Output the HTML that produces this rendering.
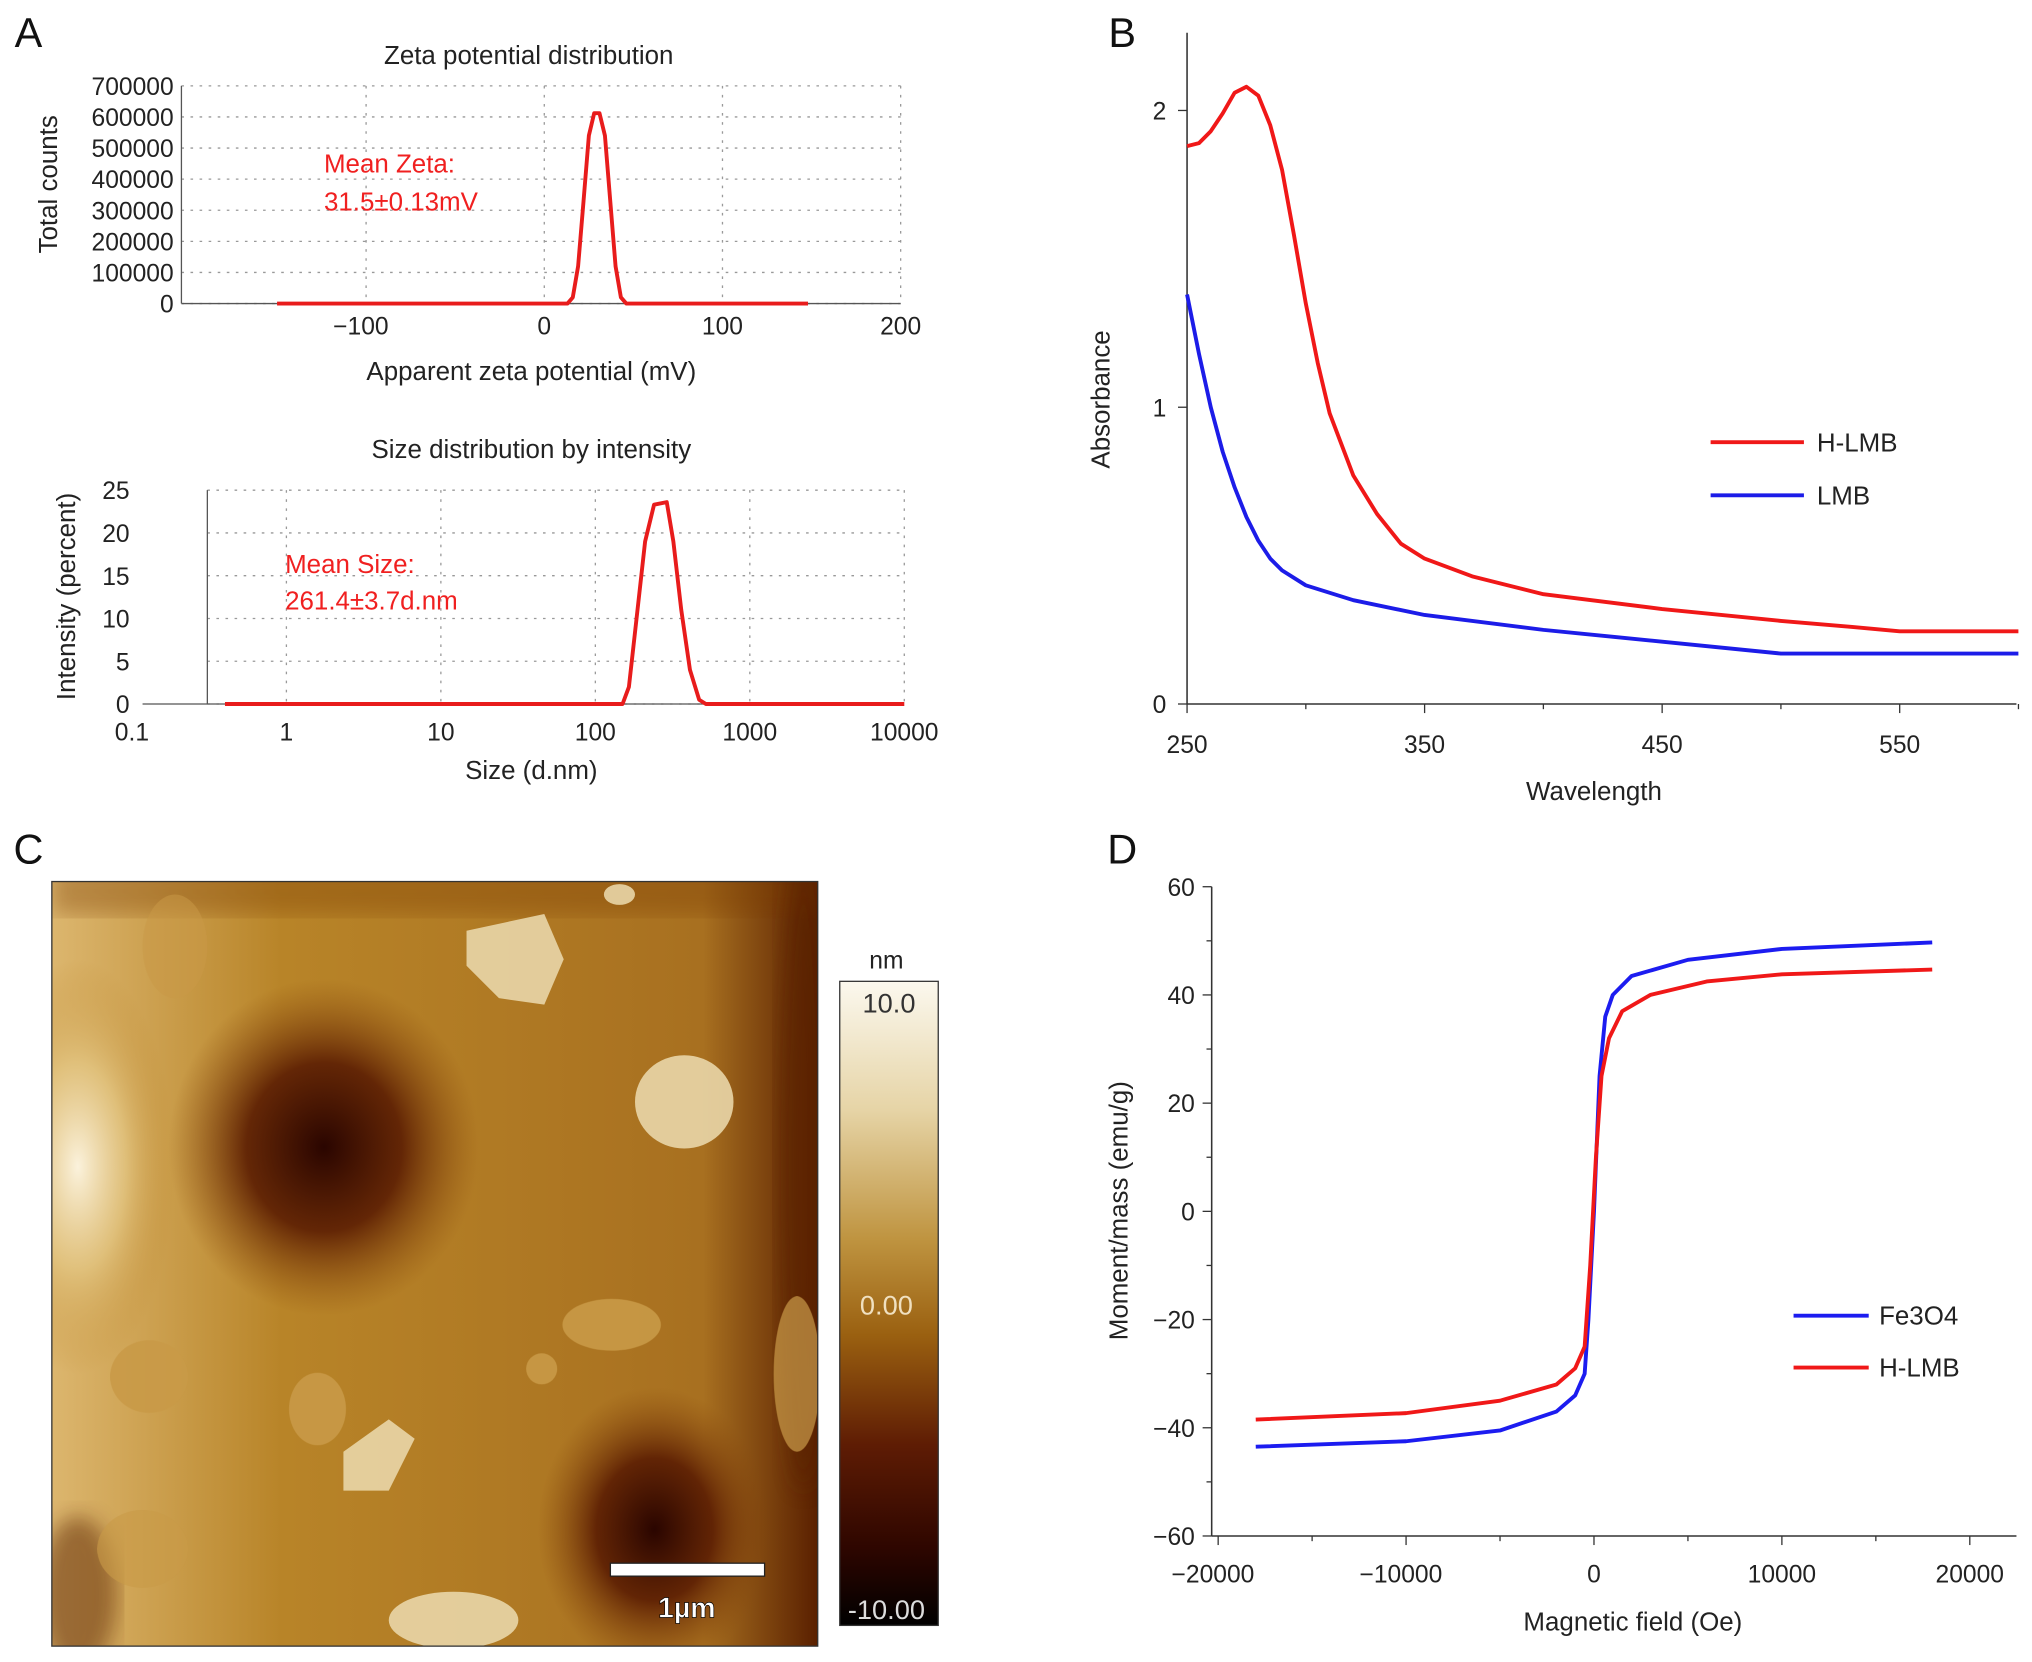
<!DOCTYPE html>
<html><head><meta charset="utf-8"><style>
html,body{margin:0;padding:0;background:#fff;}
svg{display:block;font-family:"Liberation Sans",Arial,sans-serif;}
</style></head><body>
<svg id="fig" width="2032" height="1662" viewBox="0 0 1568 1282" xmlns="http://www.w3.org/2000/svg">
<defs>
<linearGradient id="cbar" x1="0" y1="0" x2="0" y2="1">
<stop offset="0" stop-color="#fbf8ee"/><stop offset="0.2" stop-color="#e6d4a6"/><stop offset="0.4" stop-color="#bf9440"/><stop offset="0.55" stop-color="#9a6010"/><stop offset="0.72" stop-color="#5e1c04"/><stop offset="0.88" stop-color="#2e0600"/><stop offset="1" stop-color="#000"/>
</linearGradient>
<radialGradient id="dark1" cx="0.5" cy="0.5" r="0.5"><stop offset="0" stop-color="#2a0500"/><stop offset="0.5" stop-color="#5a1c02" stop-opacity="0.9"/><stop offset="1" stop-color="#8a4a0c" stop-opacity="0"/></radialGradient>
<radialGradient id="light1" cx="0.5" cy="0.5" r="0.5"><stop offset="0" stop-color="#fbf2dc"/><stop offset="0.5" stop-color="#e2c480" stop-opacity="0.8"/><stop offset="1" stop-color="#c08a30" stop-opacity="0"/></radialGradient>
<linearGradient id="afmbase" x1="0" y1="0" x2="1" y2="0"><stop offset="0" stop-color="#dcb66e"/><stop offset="0.3" stop-color="#b88428"/><stop offset="0.85" stop-color="#a87020"/><stop offset="1" stop-color="#5a2000"/></linearGradient>
<filter id="blur"><feGaussianBlur stdDeviation="8"/></filter>
<clipPath id="afmclip"><rect x="40" y="680" width="591" height="590"/></clipPath>
</defs>
<g id="root"></g>
<g clip-path="url(#afmclip)">
<rect x="40" y="680" width="591" height="590" fill="url(#afmbase)"/>
<rect x="40" y="670" width="591" height="35" fill="#7a3a06" opacity="0.35" filter="url(#blur)"/>
<ellipse cx="250" cy="885" rx="120" ry="130" fill="url(#dark1)"/>
<ellipse cx="505" cy="1180" rx="90" ry="110" fill="url(#dark1)"/>
<ellipse cx="60" cy="900" rx="75" ry="160" fill="url(#light1)"/>
<ellipse cx="620" cy="900" rx="20" ry="250" fill="#5a2000" opacity="0.6" filter="url(#blur)"/>
<ellipse cx="60" cy="1230" rx="30" ry="60" fill="#5a2000" opacity="0.5" filter="url(#blur)"/>
<g fill="#e9d6a8" opacity="0.9">
<path d="M360 718 L420 705 L435 740 L420 775 L385 770 L360 745Z"/>
<ellipse cx="528" cy="850" rx="38" ry="36"/>
<path d="M265 1120 L300 1095 L320 1110 L300 1150 L265 1150Z"/>
<ellipse cx="478" cy="690" rx="12" ry="8"/>
<ellipse cx="350" cy="1250" rx="50" ry="22"/>
</g>
<g fill="#c99a48" opacity="0.9">
<ellipse cx="115" cy="1062" rx="30" ry="28"/>
<ellipse cx="245" cy="1087" rx="22" ry="28"/>
<ellipse cx="472" cy="1022" rx="38" ry="20"/>
<ellipse cx="135" cy="730" rx="25" ry="40" opacity="0.6"/>
<ellipse cx="110" cy="1195" rx="35" ry="30" opacity="0.7"/>
<ellipse cx="418" cy="1056" rx="12" ry="12"/>
<ellipse cx="615" cy="1060" rx="18" ry="60" opacity="0.8"/>
</g>
</g>
<rect x="40" y="680" width="591" height="590" fill="none" stroke="#333" stroke-width="1"/>
<rect x="471" y="1206" width="119" height="10" fill="#fff" stroke="#222" stroke-width="1"/>
<text x="530" y="1248" text-anchor="middle" font-size="22" font-weight="bold" fill="#fff" stroke="#000" stroke-width="0.5">1µm</text>
<rect x="648" y="757" width="76" height="497" fill="url(#cbar)" stroke="#333"/>
<text x="684" y="747" text-anchor="middle" font-size="19" fill="#222">nm</text>
<text x="686" y="781" text-anchor="middle" font-size="21" fill="#333">10.0</text>
<text x="684" y="1014" text-anchor="middle" font-size="21" fill="#f0e0c0">0.00</text>
<text x="684" y="1249" text-anchor="middle" font-size="21" fill="#ddd">-10.00</text>
</svg>
<script>
const zetaX=[-150,13,16,19,22,25,28,31,34,37,40,43,46,148];
const zetaY=[0,0,20000,120000,330000,540000,612000,612000,540000,330000,120000,20000,0,0];
const zetaYTicks=[0,100000,200000,300000,400000,500000,600000,700000];
const zetaXTicks=[-100,0,100,200];
const sizeX=[0.4,150,165,185,210,240,290,320,360,410,470,520,10000];
const sizeY=[0,0,2,10,19,23.3,23.6,19,11,4,0.5,0,0];
const sizeXTicks=[0.1,1,10,100,1000,10000];
const sizeYTicks=[0,5,10,15,20,25];
const uvX=[250,255,260,265,270,275,280,285,290,295,300,305,310,320,330,340,350,370,400,450,500,530,550,600];
const hlmbY=[1.88,1.89,1.93,1.99,2.06,2.08,2.05,1.95,1.80,1.58,1.35,1.15,0.98,0.77,0.64,0.54,0.49,0.43,0.37,0.32,0.28,0.26,0.245,0.245];
const lmbX=[250,255,260,265,270,275,280,285,290,300,320,350,400,450,500,600];
const lmbY=[1.38,1.18,1.0,0.85,0.73,0.63,0.55,0.49,0.45,0.40,0.35,0.30,0.25,0.21,0.17,0.17];
const uvXTicks=[250,350,450,550];
const uvYTicks=[0,1,2];
const feX=[-18000,-10000,-5000,-2000,-1000,-500,-300,0,300,600,1000,2000,5000,10000,18000];
const feY=[-43.5,-42.5,-40.5,-37,-34,-30,-20,0,25,36,40,43.5,46.5,48.5,49.7];
const hX=[-18000,-10000,-5000,-2000,-1000,-500,-200,100,400,800,1500,3000,6000,10000,18000];
const hY=[-38.5,-37.3,-35,-32,-29,-25,-10,10,25,32,37,40,42.5,43.8,44.7];
const magXTicks=[-20000,-10000,0,10000,20000];
const magYTicks=[-60,-40,-20,0,20,40,60];

const NS="http://www.w3.org/2000/svg";
const root=document.getElementById('root');
function mk(tag,attrs,txt){const e=document.createElementNS(NS,tag);for(const k in attrs)e.setAttribute(k,attrs[k]);if(txt!==undefined)e.textContent=txt;root.appendChild(e);return e;}
function fmt(v){return v<0?'\u2212'+Math.abs(v):String(v);}
function poly(xs,ys,fx,fy){return xs.map((x,i)=>fx(x).toFixed(1)+','+fy(ys[i]).toFixed(1)).join(' ');}

[['A',22,36],['B',866,36],['C',22,666],['D',866,666]].forEach(p=>{
 const t=mk('text',{x:p[1],y:p[2],'font-size':32,'text-anchor':'middle',fill:'#111'},p[0]);
 
 
});

const zx=v=>420+v*1.375, zy=v=>234-v*168/700000;
zetaYTicks.forEach(v=>{
 const l=mk('line',{x1:140,x2:695,y1:zy(v),y2:zy(v),stroke:'#999','stroke-dasharray':'2,5'});
  
 const t=mk('text',{x:134,y:zy(v)+7,'text-anchor':'end','font-size':19,fill:'#222'},String(v));
  
});
zetaXTicks.forEach(v=>{
 mk('line',{x1:zx(v),x2:zx(v),y1:66,y2:234,stroke:'#999','stroke-dasharray':'2,5'});
 const t=mk('text',{x:zx(v)+(v<0?-4:0),y:258,'text-anchor':'middle','font-size':19,fill:'#222'},fmt(v));
  
});
mk('line',{x1:140,x2:140,y1:66,y2:234,stroke:'#555'});
mk('line',{x1:140,x2:695,y1:234,y2:234,stroke:'#555'});
let e=mk('polyline',{points:poly(zetaX,zetaY,zx,zy),fill:'none',stroke:'#e81c1c','stroke-width':3,'stroke-linejoin':'round'});
 
mk('text',{x:408,y:49,'text-anchor':'middle','font-size':20,fill:'#222'},'Zeta potential distribution');
mk('text',{x:410,y:293,'text-anchor':'middle','font-size':20,fill:'#222'},'Apparent zeta potential (mV)');
mk('text',{x:0,y:0,'text-anchor':'middle','font-size':20,fill:'#222',transform:'translate(44,142) rotate(-90)'},'Total counts');
mk('text',{x:250,y:133,'font-size':20,fill:'#f02020'},'Mean Zeta:');
mk('text',{x:250,y:162,'font-size':20,fill:'#f02020'},'31.5±0.13mV');

const sx=v=>221+Math.log10(v)*119.2, sy=v=>543-v*165/25;
sizeYTicks.forEach(v=>{
 mk('line',{x1:160,x2:697,y1:sy(v),y2:sy(v),stroke:'#999','stroke-dasharray':'2,5'});
 const t=mk('text',{x:100,y:sy(v)+7,'text-anchor':'end','font-size':19,fill:'#222'},String(v));
  
});
sizeXTicks.forEach(v=>{
 if(v>=1) mk('line',{x1:sx(v),x2:sx(v),y1:378,y2:543,stroke:'#999','stroke-dasharray':'2,5'});
 const t=mk('text',{x:sx(v),y:571,'text-anchor':'middle','font-size':19,fill:'#222'},String(v));
  
});
mk('line',{x1:160,x2:160,y1:378,y2:543,stroke:'#555'});
mk('line',{x1:110,x2:697,y1:543,y2:543,stroke:'#555'});
e=mk('polyline',{points:poly(sizeX,sizeY,sx,sy),fill:'none',stroke:'#e81c1c','stroke-width':3,'stroke-linejoin':'round'});
 
mk('text',{x:410,y:353,'text-anchor':'middle','font-size':20,fill:'#222'},'Size distribution by intensity');
mk('text',{x:410,y:601,'text-anchor':'middle','font-size':20,fill:'#222'},'Size (d.nm)');
mk('text',{x:0,y:0,'text-anchor':'middle','font-size':20,fill:'#222',transform:'translate(58,460) rotate(-90)'},'Intensity (percent)');
mk('text',{x:220,y:442,'font-size':20,fill:'#f02020'},'Mean Size:');
mk('text',{x:220,y:470,'font-size':20,fill:'#f02020'},'261.4±3.7d.nm');

const ux=v=>916+(v-250)*1.833, uy=v=>543-v*229;
mk('line',{x1:916,x2:916,y1:25,y2:543,stroke:'#333','stroke-width':1.2});
mk('line',{x1:916,x2:1556,y1:543,y2:543,stroke:'#333','stroke-width':1.2});
uvXTicks.forEach(v=>{
 mk('line',{x1:ux(v),x2:ux(v),y1:543,y2:550,stroke:'#333'});
 mk('line',{x1:ux(v+50),x2:ux(v+50),y1:543,y2:547,stroke:'#333'});
 const t=mk('text',{x:ux(v),y:581,'text-anchor':'middle','font-size':19,fill:'#222'},String(v));
  
});
uvYTicks.forEach(v=>{
 mk('line',{x1:909,x2:916,y1:uy(v),y2:uy(v),stroke:'#333'});
 const t=mk('text',{x:900,y:uy(v)+7,'text-anchor':'end','font-size':19,fill:'#222'},String(v));
  
});
e=mk('polyline',{points:poly(uvX,hlmbY,ux,uy),fill:'none',stroke:'#f01818','stroke-width':3,'stroke-linejoin':'round'});
 
e=mk('polyline',{points:poly(lmbX,lmbY,ux,uy),fill:'none',stroke:'#1c1ce8','stroke-width':3,'stroke-linejoin':'round'});
 
mk('text',{x:1230,y:617,'text-anchor':'middle','font-size':20,fill:'#222'},'Wavelength');
mk('text',{x:0,y:0,'text-anchor':'middle','font-size':20,fill:'#222',transform:'translate(856,308) rotate(-90)'},'Absorbance');
mk('line',{x1:1320,x2:1392,y1:341,y2:341,stroke:'#f01818','stroke-width':3});
mk('text',{x:1402,y:348,'font-size':20,fill:'#222'},'H-LMB');
mk('line',{x1:1320,x2:1392,y1:382,y2:382,stroke:'#1c1ce8','stroke-width':3});
mk('text',{x:1402,y:389,'font-size':20,fill:'#222'},'LMB');

const mx=v=>1230+v*0.0145, my=v=>934.5-v*4.175;
mk('line',{x1:935,x2:935,y1:684,y2:1185,stroke:'#333','stroke-width':1.2});
mk('line',{x1:935,x2:1556,y1:1185,y2:1185,stroke:'#333','stroke-width':1.2});
magXTicks.forEach(v=>{
 mk('line',{x1:mx(v),x2:mx(v),y1:1185,y2:1192,stroke:'#333'});
 if(v<20000) mk('line',{x1:mx(v+5000),x2:mx(v+5000),y1:1185,y2:1189,stroke:'#333'});
 const t=mk('text',{x:mx(v)+(v<0?-4:0),y:1221,'text-anchor':'middle','font-size':19,fill:'#222'},fmt(v));
  
});
magYTicks.forEach(v=>{
 mk('line',{x1:928,x2:935,y1:my(v),y2:my(v),stroke:'#333'});
 if(v<60) mk('line',{x1:931,x2:935,y1:my(v+10),y2:my(v+10),stroke:'#333'});
 const t=mk('text',{x:922,y:my(v)+7,'text-anchor':'end','font-size':19,fill:'#222'},fmt(v));
  
});
e=mk('polyline',{points:poly(feX,feY,mx,my),fill:'none',stroke:'#1c1cf0','stroke-width':3,'stroke-linejoin':'round'});
 
e=mk('polyline',{points:poly(hX,hY,mx,my),fill:'none',stroke:'#f01818','stroke-width':3,'stroke-linejoin':'round'});
 
mk('text',{x:1260,y:1258,'text-anchor':'middle','font-size':20,fill:'#222'},'Magnetic field (Oe)');
mk('text',{x:0,y:0,'text-anchor':'middle','font-size':20,fill:'#222',transform:'translate(870,934) rotate(-90)'},'Moment/mass (emu/g)');
mk('line',{x1:1384,x2:1442,y1:1015,y2:1015,stroke:'#1c1cf0','stroke-width':3});
mk('text',{x:1450,y:1022,'font-size':20,fill:'#222'},'Fe3O4');
mk('line',{x1:1384,x2:1442,y1:1055,y2:1055,stroke:'#f01818','stroke-width':3});
mk('text',{x:1450,y:1062,'font-size':20,fill:'#222'},'H-LMB');
</script>
</body></html>
